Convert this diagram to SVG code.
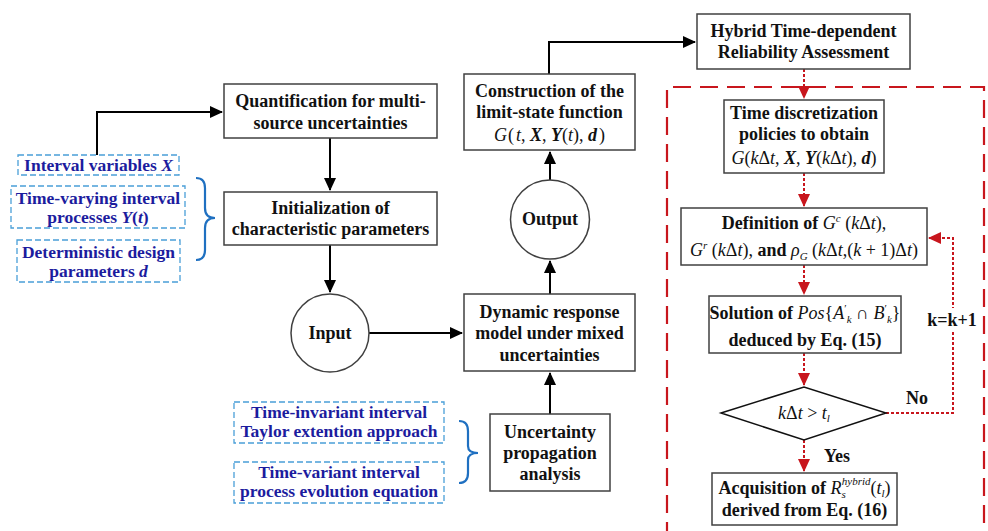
<svg xmlns="http://www.w3.org/2000/svg" width="988" height="531" viewBox="0 0 988 531" font-family="'Liberation Serif', 'DejaVu Serif', serif">
<style>
text{font-family:'Liberation Serif','DejaVu Serif',serif}
.box{fill:#fff;stroke:#404040;stroke-width:1.5}
.t{font-weight:bold;font-size:18px;fill:#111;text-anchor:middle}
.m{font-weight:normal;font-style:italic}
.mb{font-weight:bold;font-style:italic}
.n{font-weight:normal;font-style:normal}
.s{font-size:11px}
.bl{font-weight:bold;font-size:17.5px;fill:#1c1c9e;text-anchor:middle}
.db{fill:#fff;stroke:#4a9fd8;stroke-width:1.3;stroke-dasharray:6 3}
.brace{fill:none;stroke:#1f70c1;stroke-width:2.2}
.c{fill:none;stroke:#000;stroke-width:2}
.r{fill:none;stroke:#c8161d;stroke-width:2;stroke-dasharray:3 2}
</style>
<defs>
<marker id="ab" markerUnits="userSpaceOnUse" markerWidth="14" markerHeight="12" refX="12" refY="6" orient="auto"><path d="M0,0 L13,6 L0,12 Z" fill="#000"/></marker>
<marker id="ar" markerUnits="userSpaceOnUse" markerWidth="14" markerHeight="12" refX="12" refY="6" orient="auto"><path d="M0,0 L13,6 L0,12 Z" fill="#c8161d"/></marker>
</defs>
<rect width="988" height="531" fill="#fff"/>

<!-- red dashed region -->
<path d="M667,540 L667,87 L984,87 L984,540" fill="none" stroke="#c8161d" stroke-width="2.2" stroke-dasharray="18 9"/>

<g id="connectors">
<path class="c" d="M97,155 L97,112 L222,112" marker-end="url(#ab)"/>
<path class="c" d="M330,138 L330,190" marker-end="url(#ab)"/>
<path class="c" d="M330,245 L330,292" marker-end="url(#ab)"/>
<path class="c" d="M369,333 L462,333" marker-end="url(#ab)"/>
<path class="c" d="M550,414 L550,373" marker-end="url(#ab)"/>
<path class="c" d="M550,294 L550,261" marker-end="url(#ab)"/>
<path class="c" d="M550,180 L550,152" marker-end="url(#ab)"/>
<path class="c" d="M549,74 L549,42 L695,42" marker-end="url(#ab)"/>
<path class="r" d="M804,69 L804,98" marker-end="url(#ar)"/>
<path class="r" d="M804,173 L804,206" marker-end="url(#ar)"/>
<path class="r" d="M804,265 L804,294" marker-end="url(#ar)"/>
<path class="r" d="M804,353 L804,385" marker-end="url(#ar)"/>
<path class="r" d="M804,440 L804,471" marker-end="url(#ar)"/>
<path class="r" d="M886,413 L953,413 L953,238 L929,238" marker-end="url(#ar)"/>
<rect x="925" y="308" width="54" height="22" fill="#fff"/>
<text class="t" x="952" y="326">k=k+1</text>
<text class="t" x="917" y="404">No</text>
<text class="t" x="837" y="462">Yes</text>
</g>

<g id="quant">
<rect class="box" x="224" y="84" width="213" height="54"/>
<text class="t" x="330.5" y="107">Quantification for multi-</text>
<text class="t" x="330.5" y="129">source uncertainties</text>
</g>
<g id="init">
<rect class="box" x="224" y="192" width="213" height="53"/>
<text class="t" x="330.5" y="214">Initialization of</text>
<text class="t" x="330.5" y="235">characteristic parameters</text>
</g>
<g id="input">
<circle cx="330" cy="333" r="39" fill="#fff" stroke="#404040" stroke-width="1.5"/>
<text class="t" x="330" y="339">Input</text>
</g>

<g id="interval">
<rect class="db" x="18" y="155" width="161" height="20"/>
<text class="bl" x="98.5" y="171">Interval variables <tspan class="mb">X</tspan></text>
</g>
<g id="timevarying">
<rect class="db" x="11" y="186" width="174" height="42"/>
<text class="bl" x="98" y="204">Time-varying interval</text>
<text class="bl" x="98" y="223">processes <tspan class="mb">Y</tspan>(<tspan class="mb">t</tspan>)</text>
</g>
<g id="deterministic">
<rect class="db" x="17" y="240" width="163" height="42"/>
<text class="bl" x="98.5" y="258">Deterministic design</text>
<text class="bl" x="98.5" y="277">parameters <tspan class="mb">d</tspan></text>
</g>
<path class="brace" d="M196,178 Q205,178 205,188 L205,208 Q205,218 215,218 Q205,218 205,228 L205,250 Q205,260 196,260"/>

<g id="construction">
<rect class="box" x="464" y="74" width="171" height="76"/>
<text class="t" x="549.5" y="97">Construction of the</text>
<text class="t" x="549.5" y="118">limit-state function</text>
<text class="t" x="549.5" y="141" font-size="18.5"><tspan class="m">G</tspan><tspan class="n" dx="1">(</tspan><tspan class="m" dx="2">t</tspan><tspan class="n">, </tspan><tspan class="mb">X</tspan><tspan class="n">, </tspan><tspan class="mb">Y</tspan><tspan class="n">(</tspan><tspan class="m">t</tspan><tspan class="n">), </tspan><tspan class="mb">d</tspan><tspan class="n" dx="2">)</tspan></text>
</g>
<g id="output">
<circle cx="550" cy="219.5" r="39.5" fill="#fff" stroke="#404040" stroke-width="1.5"/>
<text class="t" x="550" y="225">Output</text>
</g>
<g id="dynamic">
<rect class="box" x="464" y="294" width="171" height="77"/>
<text class="t" x="549.5" y="318">Dynamic response</text>
<text class="t" x="549.5" y="339">model under mixed</text>
<text class="t" x="549.5" y="361">uncertainties</text>
</g>
<g id="propagation">
<rect class="box" x="490" y="414" width="120" height="77"/>
<text class="t" x="550" y="438">Uncertainty</text>
<text class="t" x="550" y="459">propagation</text>
<text class="t" x="550" y="480">analysis</text>
</g>
<g id="timeinvariant">
<rect class="db" x="234" y="402" width="210" height="41"/>
<text class="bl" x="339" y="418">Time-invariant interval</text>
<text class="bl" x="339" y="437">Taylor extention approach</text>
</g>
<g id="timevariant">
<rect class="db" x="234" y="462" width="210" height="41"/>
<text class="bl" x="339" y="478">Time-variant interval</text>
<text class="bl" x="339" y="497">process evolution equation</text>
</g>
<path class="brace" d="M459,421 Q468,421 468,431 L468,446 Q468,453 478,453 Q468,453 468,460 L468,473 Q468,483 459,483"/>

<g id="hybrid">
<rect class="box" x="697" y="14" width="213" height="55"/>
<text class="t" x="803.5" y="37">Hybrid Time-dependent</text>
<text class="t" x="803.5" y="58">Reliability Assessment</text>
</g>
<g id="discretization">
<rect class="box" x="724" y="100" width="160" height="73"/>
<text class="t" x="804" y="119">Time discretization</text>
<text class="t" x="804" y="140">policies to obtain</text>
<text class="t" x="804" y="164"><tspan class="m">G</tspan><tspan class="n">(</tspan><tspan class="m">k</tspan><tspan class="n">Δ</tspan><tspan class="m">t</tspan><tspan class="n">, </tspan><tspan class="mb">X</tspan><tspan class="n">, </tspan><tspan class="mb">Y</tspan><tspan class="n">(</tspan><tspan class="m">k</tspan><tspan class="n">Δ</tspan><tspan class="m">t</tspan><tspan class="n">), </tspan><tspan class="mb">d</tspan><tspan class="n">)</tspan></text>
</g>
<g id="definition">
<rect class="box" x="681" y="208" width="246" height="57"/>
<text class="t" x="804" y="229">Definition of <tspan class="m">G</tspan><tspan class="m s" dy="-7">c</tspan><tspan class="n" dy="7"> (</tspan><tspan class="m">k</tspan><tspan class="n">Δ</tspan><tspan class="m">t</tspan><tspan class="n">),</tspan></text>
<text class="t" x="804" y="256"><tspan class="m">G</tspan><tspan class="m s" dy="-7">r</tspan><tspan class="n" dy="7"> (</tspan><tspan class="m">k</tspan><tspan class="n">Δ</tspan><tspan class="m">t</tspan><tspan class="n">), </tspan>and <tspan class="m">ρ</tspan><tspan class="m s" dy="4">G</tspan><tspan class="n" dy="-4"> (</tspan><tspan class="m">k</tspan><tspan class="n">Δ</tspan><tspan class="m">t</tspan><tspan class="n">,(</tspan><tspan class="m">k</tspan><tspan class="n"> + 1)Δ</tspan><tspan class="m">t</tspan><tspan class="n">)</tspan></text>
</g>
<g id="solution">
<rect class="box" x="709" y="296" width="192" height="57"/>
<text class="t" x="805" y="319">Solution of <tspan class="m">Pos</tspan><tspan class="n">{</tspan><tspan class="m">A</tspan><tspan class="n s" dy="-7">′</tspan><tspan class="m s" dy="11">k</tspan><tspan class="n" dy="-4"> ∩ </tspan><tspan class="m">B</tspan><tspan class="n s" dy="-7">′</tspan><tspan class="m s" dy="11">k</tspan><tspan class="n" dy="-4">}</tspan></text>
<text class="t" x="805" y="346">deduced by Eq. (15)</text>
</g>
<g id="decision">
<polygon points="721,413 804,387 886,413 804,440" fill="#fff" stroke="#111" stroke-width="1.5"/>
<text class="t" x="804" y="419"><tspan class="m">k</tspan><tspan class="n">Δ</tspan><tspan class="m">t</tspan><tspan class="n"> &gt; </tspan><tspan class="m">t</tspan><tspan class="m s" dy="3">l</tspan></text>
</g>
<g id="acquisition">
<rect class="box" x="712" y="473" width="185" height="52"/>
<text class="t" x="804.5" y="494">Acquisition of <tspan class="m">R</tspan><tspan class="m s" dy="4">s</tspan><tspan class="m s" dx="-4" dy="-13">hybrid</tspan><tspan class="n" dy="9">(</tspan><tspan class="m">t</tspan><tspan class="m s" dy="3">l</tspan><tspan class="n" dy="-3">)</tspan></text>
<text class="t" x="804.5" y="516">derived from Eq. (16)</text>
</g>
</svg>
